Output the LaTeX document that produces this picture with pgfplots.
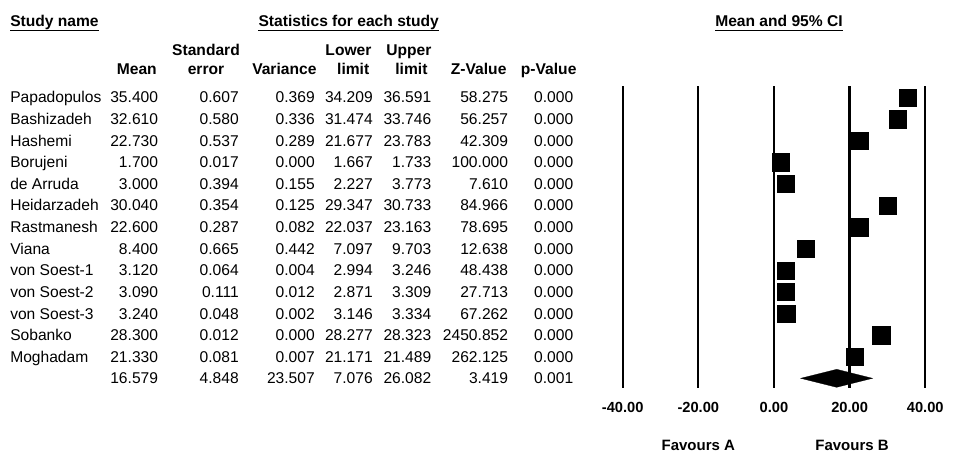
\documentclass[border=0pt]{standalone}
\usepackage{fontspec}
\setmainfont{Liberation Sans}
\usepackage{pgfplots}
\usepackage{pgfplotstable}
\pgfplotsset{compat=1.18}
\pgfplotstableread{
row mean
1 35.400
2 32.610
3 22.730
4 1.700
5 3.000
6 30.040
7 22.600
8 8.400
9 3.120
10 3.090
11 3.240
12 28.300
13 21.330
}\studies
\begin{document}
\begin{tikzpicture}[x=0.75pt,y=-0.75pt]
\path[use as bounding box] (0,0) rectangle (956,452);
\newcommand\tf{\fontsize{11.7}{14}\selectfont}
% titles
\node[anchor=base west,inner sep=0,font=\tf\bfseries] (t1) at (10,26.8) {Study name};
\node[anchor=base west,inner sep=0,font=\tf\bfseries] (t2) at (258.3,26.8) {Statistics for each study};
\node[anchor=base west,inner sep=0,font=\tf\bfseries] (t3) at (715,26.8) {Mean and 95\% CI};
\foreach \t in {t1,t2,t3}{\draw[line width=0.85pt] (\t.west|-0,30.7) -- (\t.east|-0,30.7);}
% column headers
\begin{scope}[every node/.style={inner sep=0,font=\tf\bfseries}]
\node[anchor=base] at (206,56) {Standard};
\node[anchor=base east] at (371.7,56) {Lower};
\node[anchor=base east] at (431.7,56) {Upper};
\node[anchor=base east] at (157,75) {Mean};
\node[anchor=base] at (206,75) {error};
\node[anchor=base east] at (316.7,75) {Variance};
\node[anchor=base east] at (369.5,75) {limit};
\node[anchor=base east] at (427.7,75) {limit};
\node[anchor=base east] at (506.7,75) {Z-Value};
\node[anchor=base east] at (576.7,75) {p-Value};
\end{scope}
% table rows
\begin{scope}[every node/.style={inner sep=0,font=\tf}]
\foreach \k/\n/\a/\b/\c/\d/\e/\f/\g in {
1/Papadopulos/35.400/0.607/0.369/34.209/36.591/58.275/0.000,
2/Bashizadeh/32.610/0.580/0.336/31.474/33.746/56.257/0.000,
3/Hashemi/22.730/0.537/0.289/21.677/23.783/42.309/0.000,
4/Borujeni/1.700/0.017/0.000/1.667/1.733/100.000/0.000,
5/de Arruda/3.000/0.394/0.155/2.227/3.773/7.610/0.000,
6/Heidarzadeh/30.040/0.354/0.125/29.347/30.733/84.966/0.000,
7/Rastmanesh/22.600/0.287/0.082/22.037/23.163/78.695/0.000,
8/Viana/8.400/0.665/0.442/7.097/9.703/12.638/0.000,
9/von Soest-1/3.120/0.064/0.004/2.994/3.246/48.438/0.000,
10/von Soest-2/3.090/0.111/0.012/2.871/3.309/27.713/0.000,
11/von Soest-3/3.240/0.048/0.002/3.146/3.334/67.262/0.000,
12/Sobanko/28.300/0.012/0.000/28.277/28.323/2450.852/0.000,
13/Moghadam/21.330/0.081/0.007/21.171/21.489/262.125/0.000,
14//16.579/4.848/23.507/7.076/26.082/3.419/0.001}{
\pgfmathsetmacro\yb{103+21.6*(\k-1)}
\node[anchor=base west] at (10,\yb) {\n};
\node[anchor=base east] at (158.3,\yb) {\a};
\node[anchor=base east] at (239,\yb) {\b};
\node[anchor=base east] at (315,\yb) {\c};
\node[anchor=base east] at (373,\yb) {\d};
\node[anchor=base east] at (431.5,\yb) {\e};
\node[anchor=base east] at (508.3,\yb) {\f};
\node[anchor=base east] at (573.5,\yb) {\g};
}
\end{scope}
% forest plot
\begin{axis}[
  at={(467.0pt,-64.5pt)}, anchor=north west,
  scale only axis, width=226.95pt, height=226.5pt,
  xmin=-40, xmax=40, ymin=0.468, ymax=14.449, y dir=reverse,
  clip=false,
  axis line style={draw=none}, tick style={draw=none},
  ytick=\empty,
  xtick={-40,-20,0,20,40},
  xticklabels={-40.00,-20.00,0.00,20.00,40.00},
  xticklabel style={font=\fontsize{11}{13}\selectfont\bfseries, anchor=base, yshift=-18.5pt},
  xmajorgrids, major grid style={black, line width=1.75pt},
]
\addplot[only marks, mark=square*, mark size=6.5pt, mark options={fill=black, draw=black, line width=0.2pt}] table[x=mean, y=row] {\studies};
\addplot[fill=black, draw=black, line width=0.2pt] coordinates {(7.076,14) (16.579,13.583) (26.082,14) (16.579,14.417)} -- cycle;
\end{axis}
\node[anchor=base,inner sep=0,font=\fontsize{11.25}{13}\selectfont\bfseries] at (698.3,450.7) {Favours A};
\node[anchor=base,inner sep=0,font=\fontsize{11.25}{13}\selectfont\bfseries] at (852,450.7) {Favours B};
\end{tikzpicture}
\end{document}
